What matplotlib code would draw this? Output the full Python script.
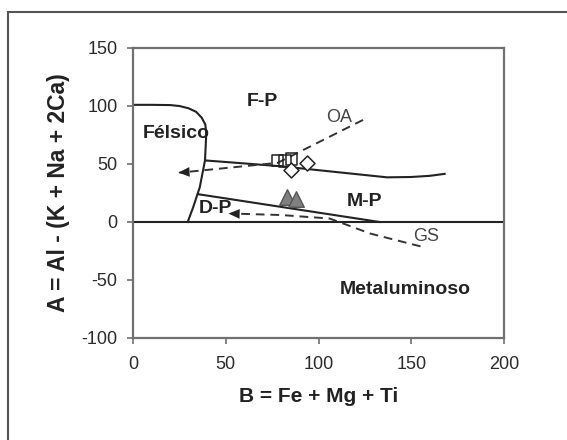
import matplotlib
matplotlib.use("Agg")
import matplotlib.pyplot as plt
from matplotlib.patches import Rectangle

plt.rcParams['font.family'] = ['Liberation Sans', 'DejaVu Sans']
plt.rcParams['axes.unicode_minus'] = False

# Boundary curves
felsic_x = [0, 10, 20, 25, 30, 34, 37, 39, 39.5, 38.8, 36, 32.5, 29.5]
felsic_y = [101, 101, 100.8, 100, 98, 95, 90, 84, 76, 53, 30, 13, 0]
upper_x = [39.5, 60, 80, 110, 137, 150, 160, 168]
upper_y = [53, 50.5, 48, 43, 38.5, 38.8, 39.8, 41.5]
lower_x = [35, 133]
lower_y = [24, 0]
# Trend lines
oa_x = [124, 78, 25]
oa_y = [88, 51, 42.5]
gs_x = [155, 128, 106, 80, 53]
gs_y = [-21, -10, 3, 6, 7.3]
# Samples
sq_x = [77.8, 82, 85.5]
sq_y = [53, 52.5, 54.5]
dia_x = [85, 94]
dia_y = [45, 50.5]
tri_x = [83, 88]
tri_y = [21.5, 19.5]

fig = plt.figure(figsize=(5.67, 4.4), dpi=100)
fig.patches.append(Rectangle((8/567, -0.1), 1.2, 1 - 12/440 + 0.1,
                             transform=fig.transFigure, fill=False,
                             edgecolor='#555555', linewidth=1.5))
ax = fig.add_axes([133/567, 1 - 338/440, (504 - 133)/567, (338 - 48)/440])

ax.set_xlim(0, 200)
ax.set_ylim(-100, 150)
ax.set_xticks([0, 50, 100, 150, 200])
ax.set_yticks([-100, -50, 0, 50, 100, 150])
for s in ax.spines.values():
    s.set_color('#707070')
    s.set_linewidth(1.6)
ax.tick_params(axis='both', labelsize=13, colors='#707070', labelcolor='#2a2a2a',
               length=4, width=1.2, direction='out')
ax.tick_params(axis='x', pad=9)
ax.tick_params(axis='y', pad=7)

ax.axhline(0, color='#222222', lw=1.5)
ax.plot(felsic_x, felsic_y, color='#222222', lw=1.5)
ax.plot(upper_x, upper_y, color='#222222', lw=1.5)
ax.plot(lower_x, lower_y, color='#222222', lw=1.5)

dash = (0, (4.5, 3))
ax.plot(oa_x, oa_y, color='#333333', lw=1.4, linestyle=dash)
ax.plot(gs_x, gs_y, color='#333333', lw=1.4, linestyle=dash)
ax.annotate('', xy=(oa_x[-1] - 2, oa_y[-1]), xytext=(oa_x[-1] + 5, oa_y[-1] + 0.6),
            arrowprops=dict(arrowstyle='-|>,head_length=0.8,head_width=0.35',
                            color='#222222', lw=0))
ax.annotate('', xy=(gs_x[-1] - 3, gs_y[-1]), xytext=(gs_x[-1] + 4, gs_y[-1] - 0.3),
            arrowprops=dict(arrowstyle='-|>,head_length=0.8,head_width=0.35',
                            color='#222222', lw=0))

ax.scatter(sq_x, sq_y, marker='s', s=68, facecolor='none', edgecolor='#222222',
           linewidth=1.1, zorder=4)
ax.scatter(dia_x, dia_y, marker='D', s=58, facecolor='white', edgecolor='#222222',
           linewidth=1.1, zorder=4)
ax.scatter(tri_x, tri_y, marker='^', s=125, facecolor='#808080', edgecolor='#555555',
           linewidth=1.0, zorder=4)

bold = dict(fontsize=14, fontweight='bold', color='#222222', ha='center', va='center')
ax.text(70, 103.5, 'F-P', **bold)
ax.text(23.5, 76.5, 'Félsico', **bold)
ax.text(44.5, 12, 'D-P', **bold)
ax.text(125, 17.5, 'M-P', **bold)
ax.text(146.5, -58.5, 'Metaluminoso', **bold)
ax.text(111, 90, 'OA', fontsize=13, color='#444444', ha='center', va='center')
ax.text(158, -12.5, 'GS', fontsize=13, color='#444444', ha='center', va='center')

ax.set_xlabel('B = Fe + Mg + Ti', fontsize=15, fontweight='bold', color='#222222', labelpad=10)
ax.set_ylabel('A = Al - (K + Na + 2Ca)', fontsize=16.5, fontweight='bold', color='#222222', labelpad=8)

fig.savefig('out.png', dpi=100)
